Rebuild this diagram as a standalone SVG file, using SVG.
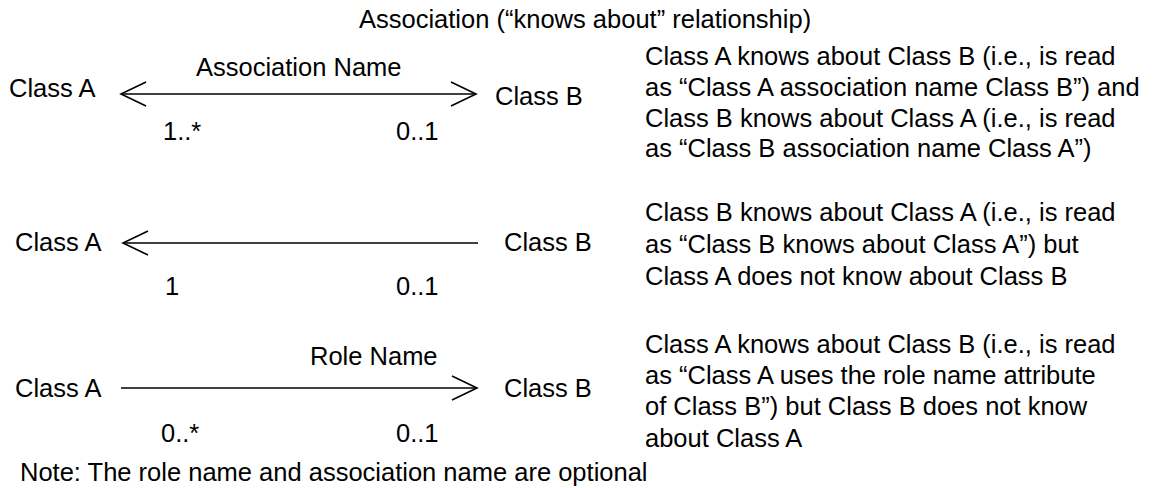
<svg xmlns="http://www.w3.org/2000/svg" width="1156" height="488" viewBox="0 0 1156 488">
<style>
text{font-family:"Liberation Sans",Arial,Helvetica,sans-serif;font-size:25.5px;fill:#000}
.ln{stroke:#000;stroke-width:1.6;fill:none}
.hd{stroke:#000;stroke-width:1.6;fill:none;stroke-linejoin:miter}
</style>
<rect width="1156" height="488" fill="#fff"/>
<text id="title" x="359" y="28">Association (“knows about” relationship)</text>
<g id="connectors">
<line class="ln" x1="121" y1="94" x2="476" y2="94"/>
<polyline class="hd" points="146,82 121,94 146,106"/>
<polyline class="hd" points="451,82 476,94 451,106"/>
<line class="ln" x1="123" y1="243" x2="478" y2="243"/>
<polyline class="hd" points="148,231 123,243 148,255"/>
<line class="ln" x1="121" y1="388" x2="477" y2="388"/>
<polyline class="hd" points="452,376 477,388 452,400"/>
</g>
<g id="row1">
<g id="r1-classA"><text x="9" y="97">Class A</text></g>
<g id="r1-classB"><text x="495" y="105">Class B</text></g>
<text x="196" y="76">Association Name</text>
<text x="163" y="140">1..*</text>
<text x="396" y="140">0..1</text>
</g>
<g id="row2">
<g id="r2-classA"><text x="15" y="251">Class A</text></g>
<g id="r2-classB"><text x="504" y="251">Class B</text></g>
<text x="165" y="295">1</text>
<text x="396" y="295">0..1</text>
</g>
<g id="row3">
<g id="r3-classA"><text x="15" y="397">Class A</text></g>
<g id="r3-classB"><text x="504" y="397">Class B</text></g>
<text x="310" y="365">Role Name</text>
<text x="161" y="442">0..*</text>
<text x="396" y="442">0..1</text>
</g>
<g id="desc1">
<text x="645" y="65">Class A knows about Class B (i.e., is read</text>
<text x="645" y="96">as “Class A association name Class B”) and</text>
<text x="645" y="127">Class B knows about Class A (i.e., is read</text>
<text x="645" y="157">as “Class B association name Class A”)</text>
</g>
<g id="desc2">
<text x="645" y="221">Class B knows about Class A (i.e., is read</text>
<text x="645" y="253">as “Class B knows about Class A”) but</text>
<text x="645" y="285">Class A does not know about Class B</text>
</g>
<g id="desc3">
<text x="645" y="353">Class A knows about Class B (i.e., is read</text>
<text x="645" y="384">as “Class A uses the role name attribute</text>
<text x="645" y="415">of Class B”) but Class B does not know</text>
<text x="645" y="447">about Class A</text>
</g>
<g id="note"><text x="20" y="481">Note: The role name and association name are optional</text></g>
</svg>
